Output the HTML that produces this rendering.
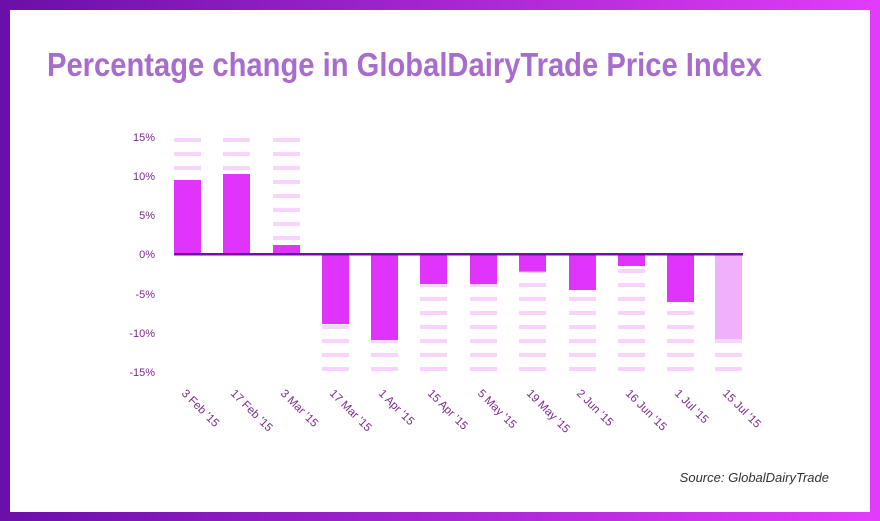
<!DOCTYPE html>
<html><head><meta charset="utf-8"><style>
html,body{margin:0;padding:0;width:880px;height:521px;overflow:hidden}
</style></head><body>
<svg width="880" height="521" xmlns="http://www.w3.org/2000/svg">
<defs><linearGradient id="g" x1="0" x2="1" y1="0" y2="0"><stop offset="0" stop-color="#6a0fa8"/><stop offset="1" stop-color="#e23cfa"/></linearGradient></defs>
<rect width="880" height="521" fill="url(#g)"/>
<rect x="10" y="10" width="860" height="502" fill="#fff"/>
<text x="47" y="76" font-family="Liberation Sans, sans-serif" font-weight="bold" font-size="33" fill="#a86ccc" textLength="715" lengthAdjust="spacingAndGlyphs">Percentage change in GlobalDairyTrade Price Index</text>
<g font-family="Liberation Sans, sans-serif" font-size="11" fill="#7a2a8a" text-anchor="end">
<text x="155" y="141">15%</text><text x="155" y="180">10%</text><text x="155" y="219">5%</text><text x="155" y="258">0%</text><text x="155" y="298">-5%</text><text x="155" y="337">-10%</text><text x="155" y="376">-15%</text>
</g>
<g id="dashes" fill="#f8d4fc"></g>
<g id="bars"></g>
<rect x="174" y="253" width="569" height="2.5" fill="#7010a8"/>
<g id="labels" font-family="Liberation Sans, sans-serif" font-size="11.5" fill="#7a2a8a"></g>
<text x="829" y="482" text-anchor="end" font-family="Liberation Sans, sans-serif" font-style="italic" font-size="13" fill="#333">Source: GlobalDairyTrade</text>
<script>
var xs=[174,223,273,322,371,420,470,519,569,618,667,715];
var ends=[180,174,245,324,340,284,284,271.6,290,266,302,339];
var labs=["3 Feb '15","17 Feb '15","3 Mar '15","17 Mar '15","1 Apr '15","15 Apr '15","5 May '15","19 May '15","2 Jun '15","16 Jun '15","1 Jul '15","15 Jul '15"];
var ns="http://www.w3.org/2000/svg";
function r(p,x,y,w,h,f){var e=document.createElementNS(ns,'rect');e.setAttribute('x',x);e.setAttribute('y',y);e.setAttribute('width',w);e.setAttribute('height',h);if(f)e.setAttribute('fill',f);p.appendChild(e);}
var D=document.getElementById('dashes'),B=document.getElementById('bars'),L=document.getElementById('labels');
xs.forEach(function(x,i){
 var e=ends[i];
 for(var k=0;k<8;k++){ if(e<254) r(D,x,138+14*k,27,4); else r(D,x,269+14*k,27,4);}
 if(e<254) r(B,x,e,27,254-e,'#e033fb'); else r(B,x,254,27,e-254,i==11?'#f0b0fc':'#e033fb');
 var t=document.createElementNS(ns,'text');t.setAttribute('transform','translate('+(x+7)+',394) rotate(45)');t.textContent=labs[i];L.appendChild(t);
});
</script>
</svg>
</body></html>
